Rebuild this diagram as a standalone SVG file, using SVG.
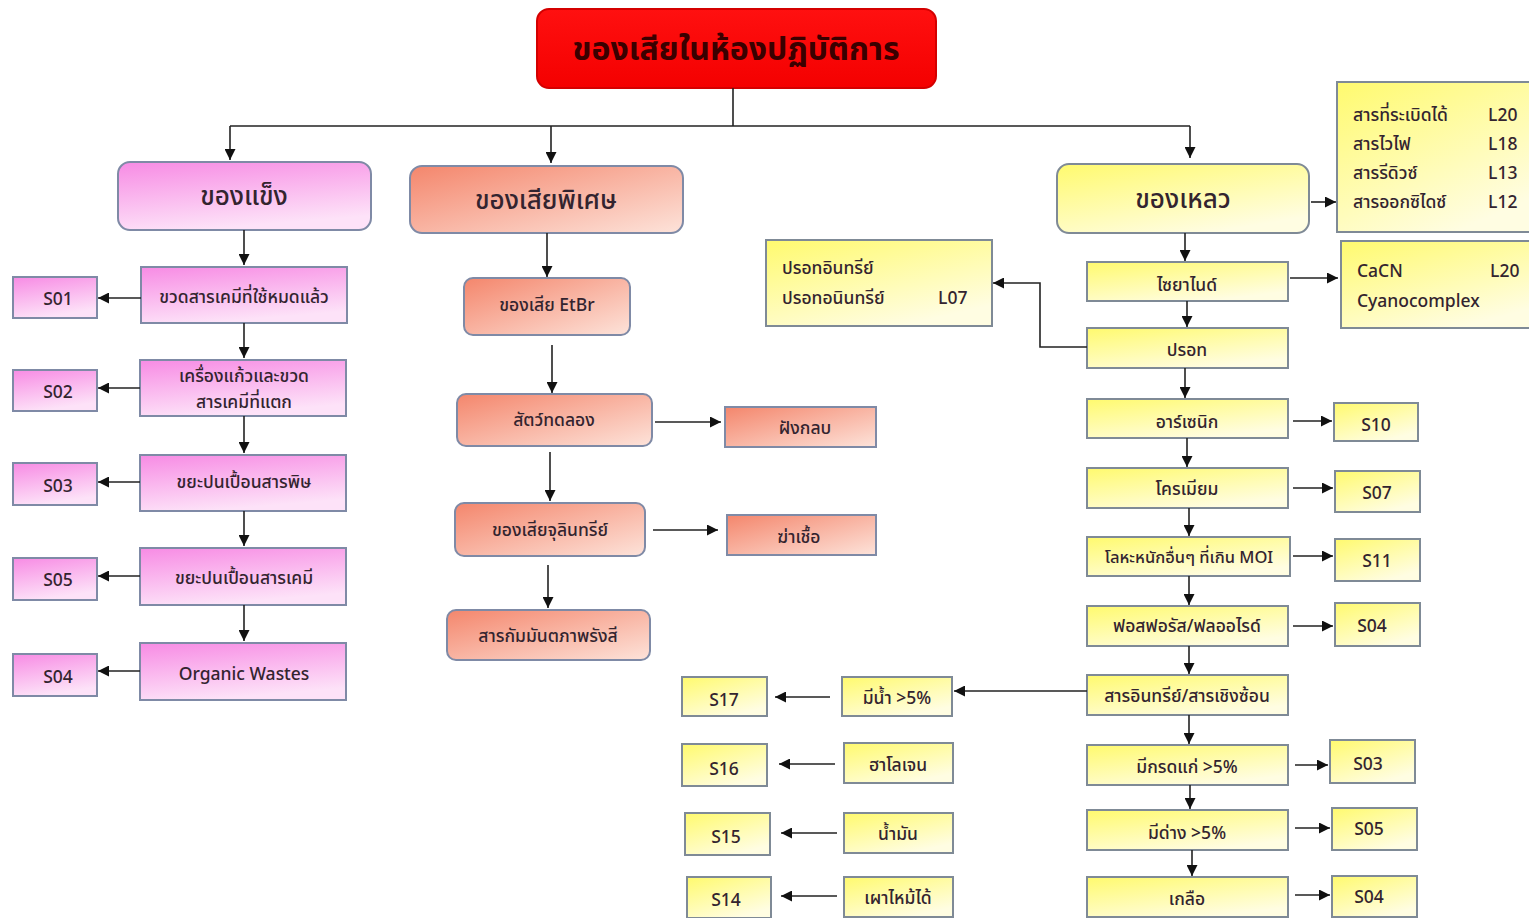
<svg xmlns="http://www.w3.org/2000/svg" width="1529" height="918" viewBox="0 0 1529 918">
<defs>
<linearGradient id="gPk" x1="0" y1="0" x2="0.3" y2="1"><stop offset="0" stop-color="#f78be4"/><stop offset="1" stop-color="#fde2f8"/></linearGradient>
<linearGradient id="gSa" x1="0" y1="0" x2="1" y2="1"><stop offset="0" stop-color="#f4866c"/><stop offset="1" stop-color="#fde3da"/></linearGradient>
<linearGradient id="gYe" x1="0" y1="0" x2="0.6" y2="1"><stop offset="0" stop-color="#fffa6e"/><stop offset="1" stop-color="#fffde2"/></linearGradient>
<linearGradient id="gRed" x1="0" y1="0" x2="0" y2="1"><stop offset="0" stop-color="#ff1010"/><stop offset="1" stop-color="#f40000"/></linearGradient>
<marker id="ah" viewBox="0 0 10 10" refX="10" refY="5" markerWidth="12" markerHeight="11" markerUnits="userSpaceOnUse" orient="auto"><path d="M0,0 L10,5 L0,10 z" fill="#111"/></marker>
</defs>
<style>
.pk{fill:url(#gPk);stroke:#7f8aa6;stroke-width:2}
.sa{fill:url(#gSa);stroke:#7f8aa6;stroke-width:2}
.ye{fill:url(#gYe);stroke:#7f8a96;stroke-width:2}
text{font-family:"Noto Sans Thai","Tahoma","Leelawadee UI","DejaVu Sans","Noto Sans",sans-serif;text-anchor:middle;dominant-baseline:central;fill:#33242f;font-size:17.5px;font-weight:500}
.h{font-size:26px}
.l{text-anchor:start}
.c line,.c path{stroke:#222;stroke-width:1.6;fill:none;marker-end:url(#ah)}
</style>
<rect width="1529" height="918" fill="#ffffff"/>

<g id="title"><rect x="537" y="9" width="399" height="79" rx="12" fill="url(#gRed)" stroke="#d40000" stroke-width="2"/><text x="736" y="50" style="font-size:32px;font-weight:bold;fill:#3a0000">ของเสียในห้องปฏิบัติการ</text></g>

<g id="solid"><rect class="pk" x="118" y="162" width="253" height="68" rx="12"/><text class="h" x="244" y="197">ของแข็ง</text></g>
<g id="special"><rect class="sa" x="410" y="166" width="273" height="67" rx="12"/><text class="h" x="546" y="201">ของเสียพิเศษ</text></g>
<g id="liquid"><rect class="ye" x="1057" y="164" width="252" height="69" rx="12"/><text class="h" x="1183" y="200">ของเหลว</text></g>

<g id="p1"><rect class="pk" x="141" y="267" width="206" height="56"/><text x="244" y="297">ขวดสารเคมีที่ใช้หมดแล้ว</text></g>
<g id="s01"><rect class="pk" x="13" y="277" width="84" height="41"/><text x="58" y="299">S01</text></g>
<g id="p2"><rect class="pk" x="140" y="360" width="206" height="56"/><text x="244" y="376">เครื่องแก้วและขวด</text><text x="244" y="402">สารเคมีที่แตก</text></g>
<g id="s02"><rect class="pk" x="13" y="370" width="84" height="41"/><text x="58" y="392">S02</text></g>
<g id="p3"><rect class="pk" x="140" y="455" width="206" height="56"/><text x="244" y="482">ขยะปนเปื้อนสารพิษ</text></g>
<g id="s03a"><rect class="pk" x="13" y="463" width="84" height="42"/><text x="58" y="486">S03</text></g>
<g id="p4"><rect class="pk" x="140" y="548" width="206" height="57"/><text x="244" y="578">ขยะปนเปื้อนสารเคมี</text></g>
<g id="s05a"><rect class="pk" x="13" y="558" width="84" height="42"/><text x="58" y="580">S05</text></g>
<g id="p5"><rect class="pk" x="140" y="643" width="206" height="57"/><text x="244" y="674">Organic Wastes</text></g>
<g id="s04a"><rect class="pk" x="13" y="654" width="84" height="42"/><text x="58" y="677">S04</text></g>

<g id="m1"><rect class="sa" x="464" y="278" width="166" height="57" rx="9"/><text x="547" y="305">ของเสีย EtBr</text></g>
<g id="m2"><rect class="sa" x="457" y="394" width="195" height="52" rx="9"/><text x="554" y="420">สัตว์ทดลอง</text></g>
<g id="m2r"><rect class="sa" x="725" y="407" width="151" height="40"/><text x="805" y="428">ฝังกลบ</text></g>
<g id="m3"><rect class="sa" x="455" y="503" width="190" height="53" rx="9"/><text x="550" y="530">ของเสียจุลินทรีย์</text></g>
<g id="m3r"><rect class="sa" x="727" y="515" width="149" height="40"/><text x="799" y="537">ฆ่าเชื้อ</text></g>
<g id="m4"><rect class="sa" x="447" y="610" width="203" height="50" rx="9"/><text x="548" y="636">สารกัมมันตภาพรังสี</text></g>

<g id="lbox"><rect class="ye" x="1337" y="82" width="200" height="150"/>
<text class="l" x="1353" y="115">สารที่ระเบิดได้</text><text class="l" x="1488" y="115">L20</text>
<text class="l" x="1353" y="144">สารไวไฟ</text><text class="l" x="1488" y="144">L18</text>
<text class="l" x="1353" y="173">สารรีดิวซ์</text><text class="l" x="1488" y="173">L13</text>
<text class="l" x="1353" y="202">สารออกซิไดซ์</text><text class="l" x="1488" y="202">L12</text></g>
<g id="cn"><rect class="ye" x="1087" y="262" width="201" height="39"/><text x="1187" y="285">ไซยาไนด์</text></g>
<g id="cnbox"><rect class="ye" x="1341" y="241" width="196" height="87"/><text class="l" x="1357" y="271">CaCN</text><text class="l" x="1490" y="271">L20</text><text class="l" x="1357" y="301">Cyanocomplex</text></g>
<g id="hg"><rect class="ye" x="1087" y="328" width="201" height="40"/><text x="1187" y="350">ปรอท</text></g>
<g id="hgbox"><rect class="ye" x="766" y="240" width="226" height="86"/><text class="l" x="782" y="268">ปรอทอินทรีย์</text><text class="l" x="782" y="298">ปรอทอนินทรีย์</text><text class="l" x="938" y="298">L07</text></g>
<g id="as"><rect class="ye" x="1087" y="399" width="201" height="39"/><text x="1187" y="422">อาร์เซนิก</text></g>
<g id="s10"><rect class="ye" x="1334" y="403" width="84" height="38"/><text x="1376" y="425">S10</text></g>
<g id="cr"><rect class="ye" x="1087" y="468" width="201" height="40"/><text x="1187" y="489">โครเมียม</text></g>
<g id="s07"><rect class="ye" x="1335" y="471" width="85" height="41"/><text x="1377" y="493">S07</text></g>
<g id="hm"><rect class="ye" x="1087" y="537" width="203" height="39"/><text x="1189" y="557" style="font-size:16.5px">โลหะหนักอื่นๆ ที่เกิน MOI</text></g>
<g id="s11"><rect class="ye" x="1335" y="539" width="85" height="42"/><text x="1377" y="561">S11</text></g>
<g id="pf"><rect class="ye" x="1087" y="606" width="201" height="40"/><text x="1187" y="626">ฟอสฟอรัส/ฟลออไรด์</text></g>
<g id="s04b"><rect class="ye" x="1335" y="603" width="85" height="43"/><text x="1372" y="626">S04</text></g>
<g id="org"><rect class="ye" x="1087" y="675" width="201" height="40"/><text x="1187" y="696">สารอินทรีย์/สารเชิงซ้อน</text></g>
<g id="wa"><rect class="ye" x="842" y="677" width="110" height="39"/><text x="897" y="698">มีน้ำ &gt;5%</text></g>
<g id="s17"><rect class="ye" x="682" y="677" width="85" height="39"/><text x="724" y="700">S17</text></g>
<g id="ha"><rect class="ye" x="844" y="743" width="109" height="40"/><text x="898" y="765">ฮาโลเจน</text></g>
<g id="s16"><rect class="ye" x="682" y="744" width="85" height="42"/><text x="724" y="769">S16</text></g>
<g id="oil"><rect class="ye" x="844" y="813" width="109" height="40"/><text x="898" y="834">น้ำมัน</text></g>
<g id="s15"><rect class="ye" x="685" y="813" width="85" height="42"/><text x="726" y="837">S15</text></g>
<g id="fl"><rect class="ye" x="844" y="877" width="109" height="40"/><text x="898" y="898">เผาไหม้ได้</text></g>
<g id="s14"><rect class="ye" x="687" y="877" width="84" height="41"/><text x="726" y="900">S14</text></g>
<g id="ac"><rect class="ye" x="1087" y="745" width="201" height="40"/><text x="1187" y="767">มีกรดแก่ &gt;5%</text></g>
<g id="s03b"><rect class="ye" x="1330" y="740" width="85" height="43"/><text x="1368" y="764">S03</text></g>
<g id="al"><rect class="ye" x="1087" y="810" width="201" height="40"/><text x="1187" y="833">มีด่าง &gt;5%</text></g>
<g id="s05b"><rect class="ye" x="1332" y="808" width="85" height="42"/><text x="1369" y="829">S05</text></g>
<g id="sa"><rect class="ye" x="1087" y="877" width="201" height="40"/><text x="1187" y="899">เกลือ</text></g>
<g id="s04c"><rect class="ye" x="1332" y="876" width="85" height="41"/><text x="1369" y="897">S04</text></g>

<g id="connectors" class="c">
<path d="M733,88 V126" style="marker-end:none"/>
<path d="M230,126 H1190" style="marker-end:none"/>
<line x1="230" y1="126" x2="230" y2="160"/>
<line x1="551" y1="126" x2="551" y2="163"/>
<line x1="1190" y1="126" x2="1190" y2="158"/>
<line x1="244" y1="230" x2="244" y2="265"/>
<line x1="141" y1="298" x2="98" y2="298"/>
<line x1="244" y1="323" x2="244" y2="358"/>
<line x1="140" y1="388" x2="98" y2="388"/>
<line x1="244" y1="416" x2="244" y2="453"/>
<line x1="140" y1="482" x2="98" y2="482"/>
<line x1="244" y1="511" x2="244" y2="546"/>
<line x1="140" y1="576" x2="98" y2="576"/>
<line x1="244" y1="605" x2="244" y2="641"/>
<line x1="140" y1="671" x2="98" y2="671"/>
<line x1="547" y1="233" x2="547" y2="277"/>
<line x1="552" y1="345" x2="552" y2="393"/>
<line x1="655" y1="422" x2="721" y2="422"/>
<line x1="550" y1="452" x2="550" y2="501"/>
<line x1="653" y1="530" x2="718" y2="530"/>
<line x1="548" y1="565" x2="548" y2="608"/>
<line x1="1311" y1="202" x2="1336" y2="202"/>
<line x1="1185" y1="233" x2="1185" y2="261"/>
<line x1="1290" y1="278" x2="1338" y2="278"/>
<line x1="1187" y1="301" x2="1187" y2="327"/>
<path d="M1087,347 H1040 V283 H993"/>
<line x1="1185" y1="368" x2="1185" y2="398"/>
<line x1="1293" y1="421" x2="1332" y2="421"/>
<line x1="1187" y1="438" x2="1187" y2="467"/>
<line x1="1293" y1="488" x2="1333" y2="488"/>
<line x1="1189" y1="508" x2="1189" y2="536"/>
<line x1="1293" y1="556" x2="1333" y2="556"/>
<line x1="1189" y1="576" x2="1189" y2="605"/>
<line x1="1293" y1="626" x2="1333" y2="626"/>
<line x1="1189" y1="646" x2="1189" y2="674"/>
<line x1="1087" y1="691" x2="954" y2="691"/>
<line x1="830" y1="697" x2="775" y2="697"/>
<line x1="835" y1="764" x2="779" y2="764"/>
<line x1="837" y1="833" x2="781" y2="833"/>
<line x1="837" y1="896" x2="781" y2="896"/>
<line x1="1189" y1="715" x2="1189" y2="744"/>
<line x1="1295" y1="765" x2="1328" y2="765"/>
<line x1="1190" y1="785" x2="1190" y2="809"/>
<line x1="1295" y1="828" x2="1330" y2="828"/>
<line x1="1192" y1="850" x2="1192" y2="876"/>
<line x1="1295" y1="895" x2="1330" y2="895"/>
</g>
</svg>
